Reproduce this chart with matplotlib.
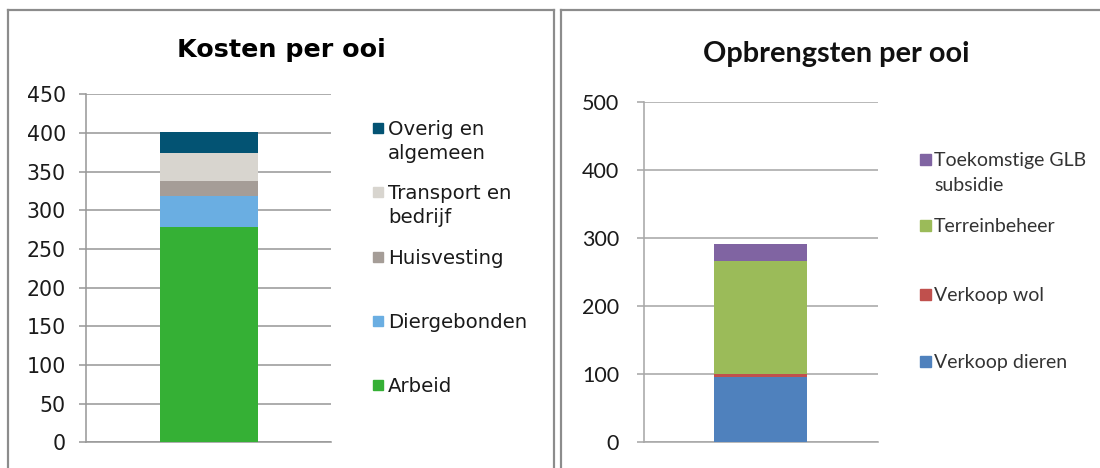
import matplotlib.pyplot as plt
from matplotlib.patches import Rectangle
from matplotlib.lines import Line2D

W, H, DPI = 1100, 468, 100

# data: costs per ewe (left), revenues per ewe (right), bottom to top
kosten_labels = ["Arbeid", "Diergebonden", "Huisvesting", "Transport en\nbedrijf", "Overig en\nalgemeen"]
kosten_values = [278, 41, 19, 36, 27]
kosten_colors = ["#35b035", "#6aaee2", "#a59d97", "#d8d5cf", "#035373"]
kosten_ticks = [0, 50, 100, 150, 200, 250, 300, 350, 400, 450]

opbr_labels = ["Verkoop dieren", "Verkoop wol", "Terreinbeheer", "Toekomstige GLB\nsubsidie"]
opbr_values = [96, 4, 166, 25]
opbr_colors = ["#4f81bd", "#c0504d", "#9bbb59", "#8064a2"]
opbr_ticks = [0, 100, 200, 300, 400, 500]


def fx(x):
    return x / W


def fy(y):
    return 1 - y / H


def pt(px):
    return px * 72 / DPI


def stacked_bar(ax, values, colors, ticks, grid_color, label_font, label_size, pad_px):
    bottom = 0
    for v, c in zip(values, colors):
        ax.bar([0], [v], bottom=bottom, width=0.4, color=c, zorder=3)
        bottom += v
    ax.set_xlim(-0.5, 0.5)
    ax.set_ylim(ticks[0], ticks[-1])
    ax.set_yticks(ticks)
    ax.set_xticks([])
    ax.yaxis.grid(True, color=grid_color, linewidth=pt(1.6))
    ax.set_axisbelow(True)
    for s in ["top", "right"]:
        ax.spines[s].set_visible(False)
    for s in ["left", "bottom"]:
        ax.spines[s].set_color(grid_color)
        ax.spines[s].set_linewidth(pt(1.6))
    ax.tick_params(axis="y", length=pt(7.5), width=pt(1.6), color=grid_color,
                   pad=pt(pad_px), labelsize=label_size, labelcolor="#1a1a1a")
    for lab in ax.get_yticklabels():
        lab.set_family(label_font)


def legend(fig, labels, colors, centers, sq_x, sq, text_x, font, size, cap, spacing, color):
    for lab, c, cy in zip(labels, colors, centers):
        fig.add_artist(Rectangle((fx(sq_x), fy(cy + sq / 2)), sq / W, sq / H,
                                 transform=fig.transFigure, color=c))
        for i, line in enumerate(lab.split("\n")):
            base = cy + cap / 2 + i * spacing
            fig.text(fx(text_x), fy(base), line, family=font, fontsize=size,
                     color=color, va="baseline", ha="left")


fig = plt.figure(figsize=(W / DPI, H / DPI), dpi=DPI)

# panel borders
border = "#8c8c8c"
for xs, ys in [([8, 8], [10, 468]), ([8, 554], [10, 10]), ([554, 554], [10, 468]),
               ([561, 561], [10, 468]), ([561, 1100], [10, 10])]:
    fig.add_artist(Line2D([fx(x) for x in xs], [fy(y) for y in ys],
                          transform=fig.transFigure, color=border, linewidth=pt(2.2)))

# left chart
ax1 = fig.add_axes([fx(86.4), fy(442.3), (331.4 - 86.4) / W, (442.3 - 94.3) / H])
stacked_bar(ax1, kosten_values, kosten_colors, kosten_ticks, "#9a9a9a", "DejaVu Sans", 14.8, 13)
fig.text(fx(281), fy(57), "Kosten per ooi", family="DejaVu Sans", fontweight="bold",
         fontsize=18.3, ha="center", va="baseline", color="black")
size_l = 14.2
cap_l = 0.73 * size_l * DPI / 72
legend(fig, kosten_labels[::-1], kosten_colors[::-1], [128.3, 192.3, 256.7, 320.7, 385],
       372.5, 10, 388, "DejaVu Sans", size_l, cap_l, 23.5, "#1a1a1a")

# right chart
ax2 = fig.add_axes([fx(643.5), fy(442.3), (877.6 - 643.5) / W, (442.3 - 102.3) / H])
stacked_bar(ax2, opbr_values, opbr_colors, opbr_ticks, "#a8a8a8", "Lato", 15.5, 17)
fig.text(fx(836.5), fy(62), "Opbrengsten per ooi", family="Lato", fontweight="bold",
         fontsize=20.8, ha="center", va="baseline", color="#111111")
size_r = 14
cap_r = 0.72 * size_r * DPI / 72
legend(fig, opbr_labels[::-1], opbr_colors[::-1], [159, 225, 294.5, 361],
       920, 11, 934, "Lato", size_r, cap_r, 25, "#333333")

fig.savefig("out.png", dpi=DPI)
